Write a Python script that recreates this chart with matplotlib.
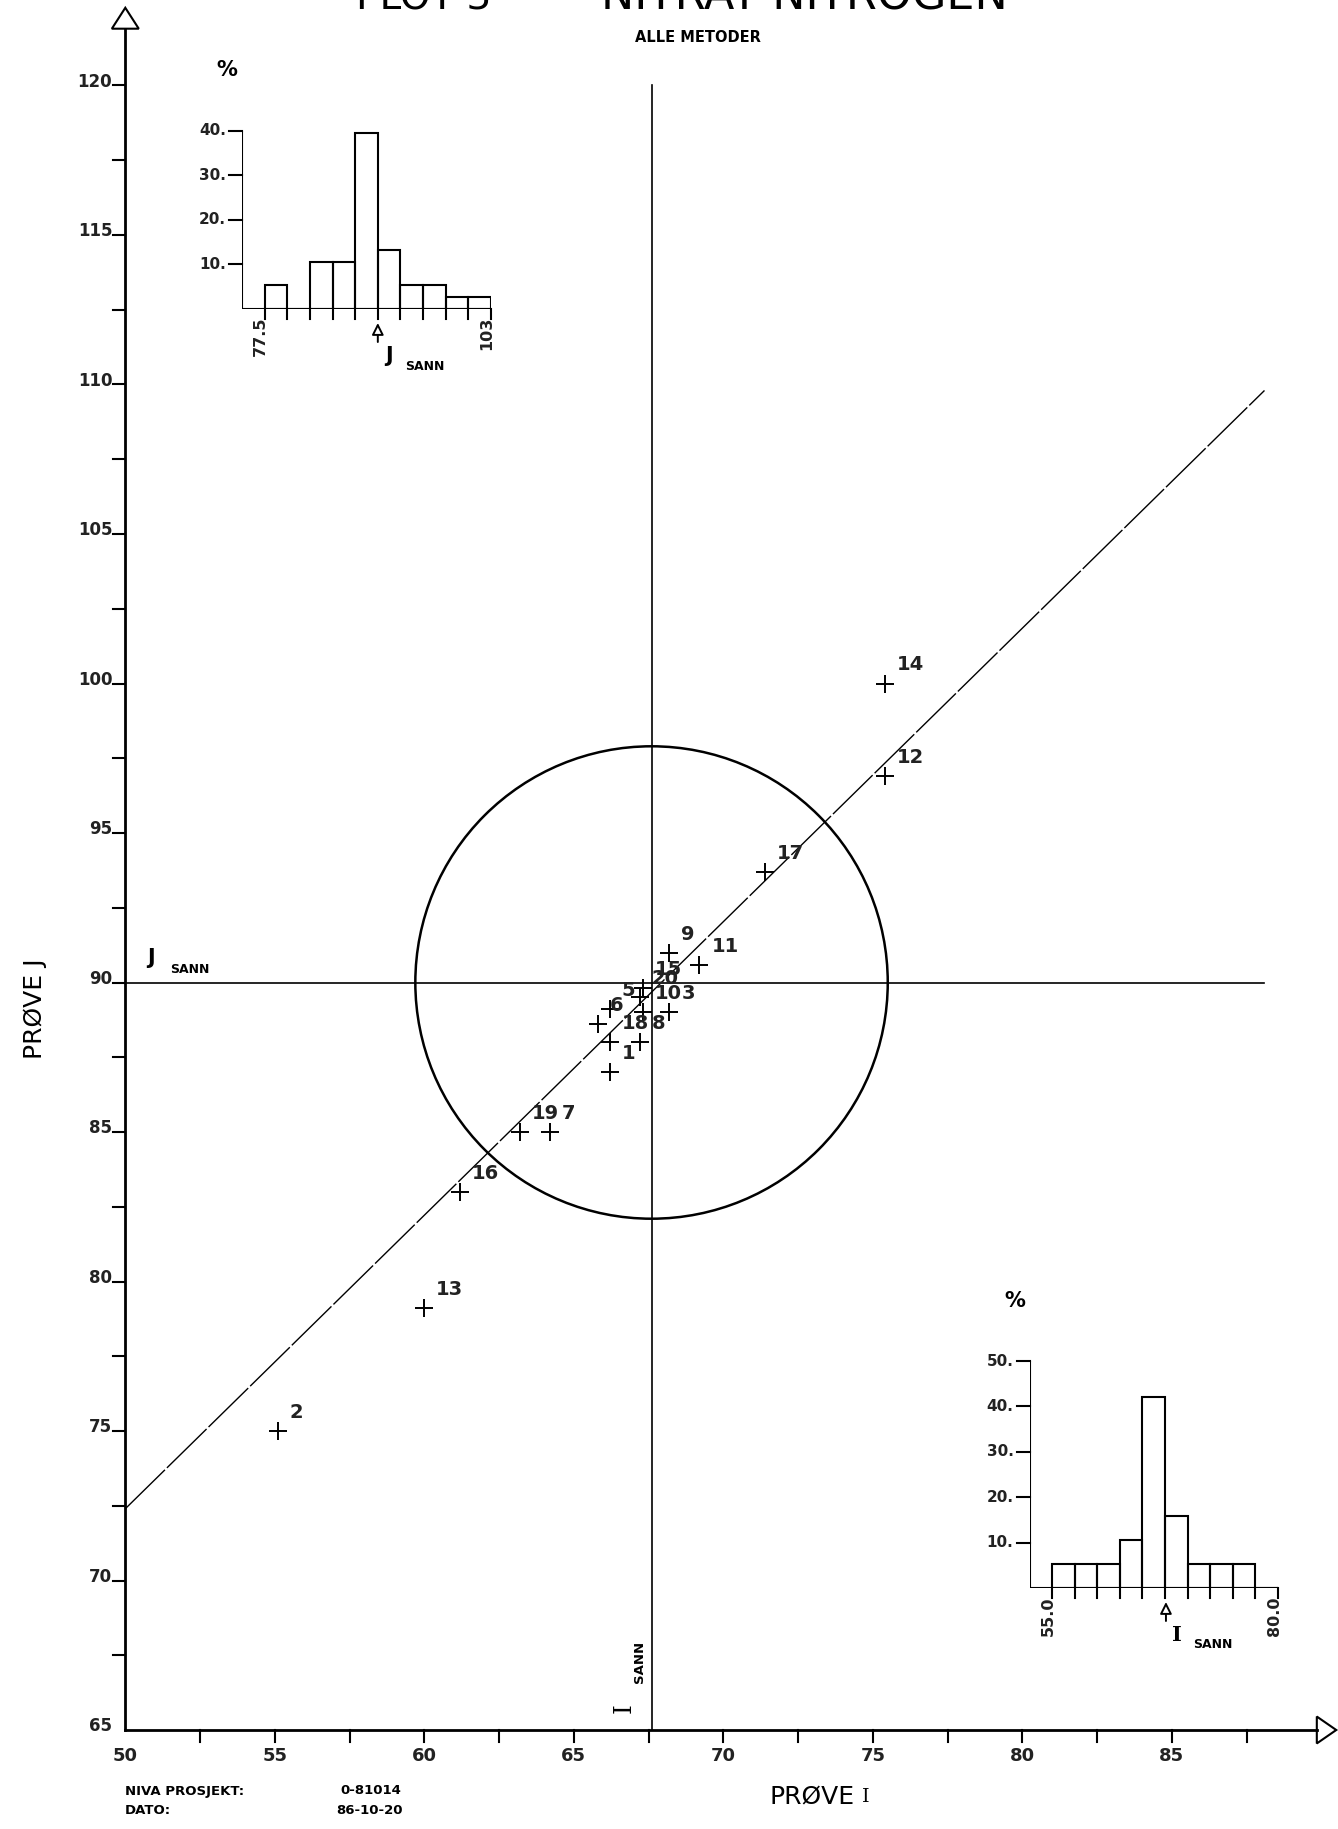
import numpy as np
import matplotlib.pyplot as plt
from matplotlib.patches import Circle, Polygon

W, H = 1338, 1829

# Prove I / prove J per laboratorium (lest av plottet)
lab_ids = ['14', '12', '17', '9', '11', '15', '20', '5', '10', '3',
           '6', '18', '8', '1', '19', '7', '16', '13', '2']
prove_i = [75.4, 75.4, 71.4, 68.2, 69.2, 67.3, 67.2, 66.2, 67.3, 68.2,
           65.8, 66.2, 67.2, 66.2, 63.2, 64.2, 61.2, 60.0, 55.1]
prove_j = [100.0, 96.9, 93.7, 91.0, 90.6, 89.8, 89.5, 89.1, 89.0, 89.0,
           88.6, 88.0, 88.0, 87.0, 85.0, 85.0, 83.0, 79.1, 75.0]

I_SANN = 67.6
J_SANN = 90.0
circle_r = 7.9
reg_i = [50.0, 88.1]
reg_j = [72.4, 109.8]

# histogram J (oppe til venstre), prosent per klasse
j_edges = [77.5, 80.0, 82.5, 85.0, 87.5, 90.0, 92.5, 95.0, 97.5, 100.0]
j_pct = [5.3, 0.0, 10.5, 10.5, 39.5, 13.2, 5.3, 5.3, 2.6, 2.6]
j_ends = ['77.5', '103']
j_yticks = [10, 20, 30, 40]

# histogram I (nede til hoyre)
i_edges = [55.0, 57.5, 60.0, 62.5, 65.0, 67.5, 70.0, 72.5, 75.0, 77.5]
i_pct = [5.3, 5.3, 5.3, 10.5, 42.1, 15.8, 5.3, 5.3, 5.3, 0.0]
i_ends = ['55.0', '80.0']
i_yticks = [10, 20, 30, 40, 50]

fig = plt.figure(figsize=(W / 100, H / 100), dpi=100)
ax = fig.add_axes([0, 0, 1, 1])
PXU = 29.9          # pixels per unit
x50_px, y120_px = 125.3, 85.5
ax.set_xlim(50 - x50_px / PXU, 50 + (W - x50_px) / PXU)
ax.set_ylim(120 - (H - y120_px) / PXU, 120 + y120_px / PXU)
ax.axis('off')

# axes with arrows
ax.plot([50, 89.85], [65, 65], color='k', lw=2.0)
ax.plot([50, 50], [65, 121.9], color='k', lw=2.0)
ax.add_patch(Polygon([[89.85, 64.55], [90.5, 65], [89.85, 65.45]],
                     closed=True, fill=False, lw=1.5))
ax.add_patch(Polygon([[49.55, 121.9], [50, 122.6], [50.45, 121.9]],
                     closed=True, fill=False, lw=1.5))

t = 12 / PXU
for v in np.arange(52.5, 88, 2.5):
    ax.plot([v, v], [65, 65 - t], color='k', lw=1.5)
for v in np.arange(50, 86, 5):
    ax.text(v, 65 - 17 / PXU, '%d' % v, ha='center', va='top',
            fontsize=13, fontweight='bold', color='#222222')
for v in np.arange(67.5, 121, 2.5):
    ax.plot([50 - t, 50], [v, v], color='k', lw=1.5)
for v in np.arange(65, 121, 5):
    ax.text(50 - 13 / PXU, v - 0.05, '%d' % v, ha='right', va='baseline',
            fontsize=12, fontweight='bold', color='#222222')

# sann-linjer, sirkel og regresjonslinje
ax.plot([I_SANN, I_SANN], [65, 120], color='k', lw=1.2)
ax.plot([50, 88.1], [J_SANN, J_SANN], color='k', lw=1.2)
ax.add_patch(Circle((I_SANN, J_SANN), circle_r, fill=False, lw=1.8))
ax.plot(reg_i, reg_j, color='k', lw=1.0, ls=(0, (40, 2)))

# punkter
ax.plot(prove_i, prove_j, ls='none', marker='+', ms=13, mew=1.4, color='k')
for lab, xi, yj in zip(lab_ids, prove_i, prove_j):
    ax.annotate(lab, (xi, yj), xytext=(12, 13), textcoords='offset pixels',
                fontsize=14, fontweight='bold', ha='left', va='baseline',
                color='#222222')

# sann-etiketter
ax.annotate('J', (50, J_SANN), xytext=(26, 25), textcoords='offset pixels',
            ha='center', va='center', fontsize=15, fontweight='bold')
ax.annotate('SANN', (50, J_SANN), xytext=(65, 13), textcoords='offset pixels',
            ha='center', va='center', fontsize=9, fontweight='bold')
ax.annotate('I', (I_SANN, 65), xytext=(-27, 22), textcoords='offset pixels',
            ha='center', va='center', fontsize=18, rotation=90,
            family='DejaVu Serif')
ax.annotate('SANN', (I_SANN, 65), xytext=(-12, 68), textcoords='offset pixels',
            ha='center', va='center', fontsize=9.5, fontweight='bold',
            rotation=90)

# aksetitler
ax.text(812 / W, 1 - 1797 / H, 'PRØVE', transform=fig.transFigure,
        ha='center', va='center', fontsize=18)
ax.text(866 / W, 1 - 1797 / H, 'I', transform=fig.transFigure,
        ha='center', va='center', fontsize=14, family='DejaVu Serif')
ax.text(35 / W, 1 - 1009 / H, 'PRØVE J', transform=fig.transFigure,
        ha='center', va='center', fontsize=18, rotation=90)

# overskrift (delvis utenfor arket, som i originalen)
fig.text(424 / W, 1 - 9 / H, 'PLOT 3', ha='center', va='baseline',
         fontsize=28)
fig.text(804 / W, 1 - 9 / H, 'NITRAT NITROGEN', ha='center',
         va='baseline', fontsize=32)
fig.text(698 / W, 1 - 37 / H, 'ALLE METODER', ha='center', va='center',
         fontsize=10.5, fontweight='bold')

# prosjekt-info
fig.text(125 / W, 1 - 1791 / H, 'NIVA PROSJEKT:', ha='left', va='center',
         fontsize=9.5, fontweight='bold')
fig.text(340 / W, 1 - 1791 / H, '0-81014', ha='left', va='center',
         fontsize=9.5, fontweight='bold')
fig.text(125 / W, 1 - 1810 / H, 'DATO:', ha='left', va='center',
         fontsize=9.5, fontweight='bold')
fig.text(336 / W, 1 - 1810 / H, '86-10-20', ha='left', va='center',
         fontsize=9.5, fontweight='bold')


def hist_inset(rect, edges, pct, ymax, yticks, ends, sann, sann_txt, sann_fam):
    l, top, r, b = rect
    axh = fig.add_axes([l / W, 1 - b / H, (r - l) / W, (b - top) / H])
    width = edges[1] - edges[0]
    x0 = edges[0] - width
    x1 = edges[-1] + width
    axh.set_xlim(x0, x1)
    axh.set_ylim(0, ymax)
    axh.axis('off')
    kx = (x1 - x0) / (r - l)
    ky = ymax / (b - top)
    axh.bar(edges, pct, width=width, align='edge', fill=False,
            edgecolor='k', lw=1.5)
    axh.plot([x0, x0, x1], [ymax, 0, 0], color='k', lw=1.5)
    for e in edges + [x1]:
        axh.plot([e, e], [0, -10 * ky], color='k', lw=1.5, clip_on=False)
    for v in yticks:
        axh.plot([x0 - 13 * kx, x0], [v, v], color='k', lw=1.5, clip_on=False)
        axh.text(x0 - 16 * kx, v, '%d.' % v, ha='right', va='center',
                 fontsize=11, fontweight='bold', color='#222222')
    axh.text(x0 - 15 * kx, ymax + 60 * ky, '%', ha='center', va='center',
             fontsize=15, fontweight='bold')
    axh.text(edges[0] - 4 * kx, -8 * ky, ends[0], rotation=90, ha='center',
             va='top', fontsize=11.5, fontweight='bold', color='#222222')
    axh.text(x1 - 4 * kx, -8 * ky, ends[1], rotation=90, ha='center',
             va='top', fontsize=11.5, fontweight='bold', color='#222222')
    axh.annotate('', xy=(sann, -14 * ky), xytext=(sann, -33 * ky),
                 arrowprops=dict(arrowstyle='-|>,head_width=0.35,head_length=0.7',
                                 fc='white', ec='k', lw=1.4,
                                 shrinkA=0, shrinkB=0),
                 annotation_clip=False)
    axh.text(sann + 11 * kx, -47 * ky, sann_txt, ha='center', va='center',
             fontsize=15, fontweight='bold', family=sann_fam)
    axh.text(sann + 47 * kx, -57 * ky, 'SANN', ha='center', va='center',
             fontsize=9, fontweight='bold')
    return axh


hist_inset((242, 130.5, 491, 309), j_edges, j_pct, 40, j_yticks, j_ends,
           J_SANN, 'J', 'DejaVu Sans')
hist_inset((1029.5, 1361, 1278, 1588), i_edges, i_pct, 50, i_yticks, i_ends,
           I_SANN, 'I', 'DejaVu Serif')

fig.savefig('out.png', dpi=100)
